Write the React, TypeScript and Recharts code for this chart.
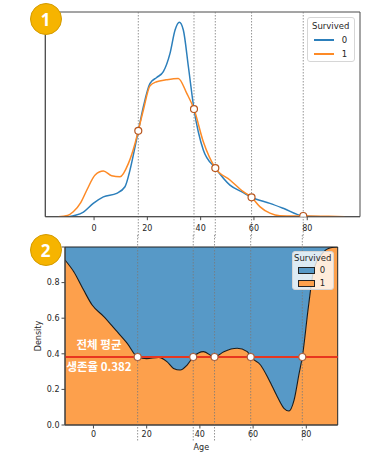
import {
  Area,
  ComposedChart,
  Legend,
  Line,
  ReferenceArea,
  ReferenceLine,
  Scatter,
  XAxis,
  YAxis,
} from "recharts";

// KDE of Age, Survived = 0
const ageDied = [
  -9.6, -7, -4, -0.3, 3.5, 8.5, 11.6, 13.5, 15.4, 16.6, 18.5, 21, 23.5, 26, 28.5,
  30.4, 32, 33.5, 35.4, 37.5, 41, 45.5, 51, 56, 59.1, 66, 71, 78.5, 85.4,
];
const densDied = [
  0, 0.00012, 0.0004, 0.00114, 0.0017, 0.002, 0.00256, 0.004, 0.006, 0.00732,
  0.0094, 0.0114, 0.0119, 0.0124, 0.01396, 0.01596, 0.01662, 0.01596, 0.01282,
  0.0092, 0.0057, 0.00416, 0.0027, 0.00206, 0.00166, 0.00114, 0.00072, 0.00006, 0,
];

// KDE of Age, Survived = 1
const ageSurvived = [
  -13.4, -10, -7.8, -5, -2.7, 0.4, 3.5, 6.6, 9.75, 12.9, 15.4, 16.6, 18.5, 21,
  23.5, 27, 31.6, 34.8, 37.5, 41, 45.5, 51, 56, 59.1, 62.2, 66, 69.7, 75, 80, 88, 94,
];
const densSurvived = [
  0, 0.0001, 0.00042, 0.0012, 0.00228, 0.00356, 0.0039, 0.0035, 0.00342, 0.00456,
  0.00628, 0.00736, 0.00912, 0.0112, 0.01154, 0.0117, 0.01182, 0.01054, 0.0092,
  0.0064, 0.00416, 0.00314, 0.00214, 0.00166, 0.00086, 0.0003, 0.00008, 0.00006,
  0.00007, 0.00004, 0,
];

// where the two curves cross
const crossAges = [16.6, 37.5, 45.5, 59.1, 78.5];
const crossDens = [0.00734, 0.0092, 0.00416, 0.00166, 0.00006];

// share of survived (fill plot)
const fillAges = [
  -10.7, -7.4, -3.7, -0.5, 3.9, 8.3, 12.7, 16.6, 20, 24.5, 27.6, 30.1, 32.6, 35.2,
  37.5, 41.4, 45.5, 49, 54, 57.8, 59.1, 62.8, 66, 69.1, 71.6, 73.5, 75.4, 77.3,
  78.5, 80.8, 82.8, 86, 89.2, 91.8,
];
const fillSurvived = [
  0.927, 0.861, 0.758, 0.674, 0.609, 0.534, 0.459, 0.382, 0.373, 0.38, 0.356,
  0.318, 0.309, 0.337, 0.382, 0.412, 0.382, 0.412, 0.431, 0.412, 0.382, 0.337,
  0.253, 0.159, 0.094, 0.079, 0.14, 0.29, 0.382, 0.665, 0.871, 0.964, 0.996, 1.0,
];
const meanRate = 0.382;

const xTicks = [0, 20, 40, 60, 80];
const densTicks = [0, 0.002, 0.004, 0.006, 0.008, 0.01, 0.012, 0.014, 0.016];
const rateTicks = [0, 0.2, 0.4, 0.6, 0.8, 1.0];
const legendKeys = ["0", "1"];

const BLUE = "#2c7fbb";
const ORANGE = "#fd8a26";
const FILL_BLUE = "#5799c7";
const FILL_ORANGE = "#fda04c";
const SPINE = "#4a4a4a";
const tickStyle = { fontSize: 8, fill: "#262626", fontFamily: "DejaVu Sans" };

const topX: [number, number] = [-18.3, 99.8];
const topY: [number, number] = [0, 0.0175];
const botX: [number, number] = [-10.7, 91.8];

const diedRows = ageDied.map((a, i) => ({ age: a, dens: densDied[i] }));
const survivedRows = ageSurvived.map((a, i) => ({ age: a, dens: densSurvived[i] }));
const crossRows = crossAges.map((a, i) => ({ age: a, dens: crossDens[i] }));
const fillRows = fillAges.map((a, i) => ({
  age: a,
  p1: fillSurvived[i],
  p0: 1 - fillSurvived[i],
}));
const meanRows = crossAges.map((a) => ({ age: a, p1: meanRate }));

const guide = (up: number, down: number) => (p: any) => (
  <line
    x1={p.x1}
    x2={p.x2}
    y1={Math.min(p.y1, p.y2) - up}
    y2={Math.max(p.y1, p.y2) + down}
    stroke="#7a7a7a"
    strokeWidth={0.8}
    strokeDasharray="1.5 1.5"
  />
);

const marker = (stroke: string) => (p: any) => (
  <circle cx={p.cx} cy={p.cy} r={3.5} fill="#fff" stroke={stroke} strokeWidth={1.2} />
);

const meanLabel = (p: any) => {
  const vb = p.viewBox;
  const cx = vb.x + 34;
  return (
    <g fill="#fff" fontWeight={700} fontSize={11.5} fontFamily="'Noto Sans CJK KR'" textAnchor="middle">
      <text x={cx} y={vb.y - 8}>전체 평균</text>
      <text x={cx} y={vb.y + 14}>생존율 {meanRate.toFixed(3)}</text>
    </g>
  );
};

const LineLegend = () => (
  <div
    style={{
      width: 46,
      height: 43,
      border: "1px solid #d6d6d6",
      borderRadius: 3,
      background: "rgba(255,255,255,0.8)",
      font: "8.5px 'DejaVu Sans'",
      color: "#262626",
    }}
  >
    <div style={{ textAlign: "center", lineHeight: "14px", marginTop: 1 }}>Survived</div>
    {legendKeys.map((k, i) => (
      <div key={k} style={{ display: "flex", alignItems: "center", height: 14 }}>
        <div style={{ width: 20, height: 2, background: i ? ORANGE : BLUE, marginLeft: 6 }} />
        <span style={{ marginLeft: 8 }}>{k}</span>
      </div>
    ))}
  </div>
);

const FillLegend = () => (
  <div
    style={{
      width: 40,
      height: 37,
      border: "1px solid #d6d6d6",
      borderRadius: 3,
      background: "rgba(255,255,255,0.8)",
      font: "8.5px 'DejaVu Sans'",
      color: "#262626",
    }}
  >
    <div style={{ textAlign: "center", lineHeight: "11px", marginTop: 0.5 }}>Survived</div>
    {legendKeys.map((k, i) => (
      <div key={k} style={{ display: "flex", alignItems: "center", height: 13 }}>
        <div
          style={{
            width: 15,
            height: 5,
            border: "1px solid #222",
            background: i ? FILL_ORANGE : FILL_BLUE,
            marginLeft: 5,
          }}
        />
        <span style={{ marginLeft: 5 }}>{k}</span>
      </div>
    ))}
  </div>
);

const Badge = ({ n, top }: { n: number; top: number }) => (
  <div
    style={{
      position: "absolute",
      left: 29.5,
      top,
      width: 30,
      height: 30,
      borderRadius: "50%",
      background: "#f6b400",
      border: "1px solid #d49b00",
      color: "#fff",
      font: "700 17px 'Open Sans'",
      display: "flex",
      alignItems: "center",
      justifyContent: "center",
    }}
  >
    {n}
  </div>
);

export default function App() {
  return (
    <div
      style={{
        position: "absolute",
        left: 0,
        top: 0,
        width: 367,
        height: 454,
        background: "#fff",
        overflow: "hidden",
      }}
    >
      <div style={{ position: "absolute", left: 0, top: 0 }}>
        <ComposedChart width={367} height={240} margin={{ top: 12, right: 7, bottom: 0, left: 0 }}>
          <XAxis
            type="number"
            dataKey="age"
            domain={topX}
            ticks={xTicks}
            allowDataOverflow
            height={23.3}
            tick={tickStyle}
            tickSize={3.5}
            tickMargin={5}
            stroke={SPINE}
          />
          <YAxis
            type="number"
            domain={topY}
            ticks={densTicks}
            allowDataOverflow
            width={45.3}
            tick={false}
            tickSize={3.5}
            stroke={SPINE}
          />
          {crossAges.map((a) => (
            <ReferenceLine key={a} x={a} shape={guide(0, 21)} />
          ))}
          <Line
            data={diedRows}
            dataKey="dens"
            type="monotone"
            stroke={BLUE}
            strokeWidth={1.5}
            dot={false}
            isAnimationActive={false}
          />
          <Line
            data={survivedRows}
            dataKey="dens"
            type="monotone"
            stroke={ORANGE}
            strokeWidth={1.5}
            dot={false}
            isAnimationActive={false}
          />
          <Scatter data={crossRows} dataKey="dens" shape={marker("#b8561e")} isAnimationActive={false} />
          <ReferenceArea
            x1={topX[0]}
            x2={topX[1]}
            y1={topY[0]}
            y2={topY[1]}
            fill="none"
            stroke={SPINE}
            strokeWidth={1}
            ifOverflow="visible"
          />
          <Legend
            layout="vertical"
            align="center"
            verticalAlign="middle"
            content={LineLegend}
            wrapperStyle={{ left: 306.7, top: 16.7, width: "auto", height: "auto" }}
          />
        </ComposedChart>
      </div>

      <div style={{ position: "absolute", left: 0, top: 225 }}>
        <ComposedChart
          width={367}
          height={229}
          data={fillRows}
          margin={{ top: 22, right: 29.3, bottom: 0, left: 0 }}
        >
          <XAxis
            type="number"
            dataKey="age"
            domain={botX}
            ticks={xTicks}
            allowDataOverflow
            height={29}
            tick={tickStyle}
            tickSize={3.5}
            tickMargin={3}
            stroke={SPINE}
            label={{ value: "Age", position: "insideBottom", offset: 4, style: tickStyle }}
          />
          <YAxis
            type="number"
            domain={[0, 1]}
            ticks={rateTicks}
            allowDataOverflow
            width={65}
            tick={tickStyle}
            tickSize={3.5}
            tickMargin={2}
            tickFormatter={(v: number) => (v < 1 ? v.toFixed(1) : "")}
            stroke={SPINE}
            label={{
              value: "Density",
              angle: -90,
              position: "center",
              dx: 5.5,
              style: tickStyle,
            }}
          />
          <Area
            dataKey="p1"
            stackId="fill"
            type="monotone"
            fill={FILL_ORANGE}
            fillOpacity={1}
            stroke="none"
            isAnimationActive={false}
          />
          <Area
            dataKey="p0"
            stackId="fill"
            type="monotone"
            fill={FILL_BLUE}
            fillOpacity={1}
            stroke="none"
            isAnimationActive={false}
          />
          <Line
            dataKey="p1"
            type="monotone"
            stroke="#1a1a1a"
            strokeWidth={1.1}
            dot={false}
            isAnimationActive={false}
          />
          {crossAges.map((a) => (
            <ReferenceLine key={a} x={a} shape={guide(12, 17)} />
          ))}
          <ReferenceLine y={meanRate} stroke="#e8361f" strokeWidth={2} label={meanLabel} />
          <Scatter data={meanRows} dataKey="p1" shape={marker("#a8603f")} isAnimationActive={false} />
          <ReferenceArea
            x1={botX[0]}
            x2={botX[1]}
            y1={0}
            y2={1}
            fill="none"
            stroke="#222"
            strokeWidth={1}
            ifOverflow="visible"
          />
          <Legend
            layout="vertical"
            align="center"
            verticalAlign="middle"
            content={FillLegend}
            wrapperStyle={{ left: 291.7, top: 26, width: "auto", height: "auto" }}
          />
        </ComposedChart>
      </div>

      <Badge n={1} top={3} />
      <Badge n={2} top={234} />
    </div>
  );
}
